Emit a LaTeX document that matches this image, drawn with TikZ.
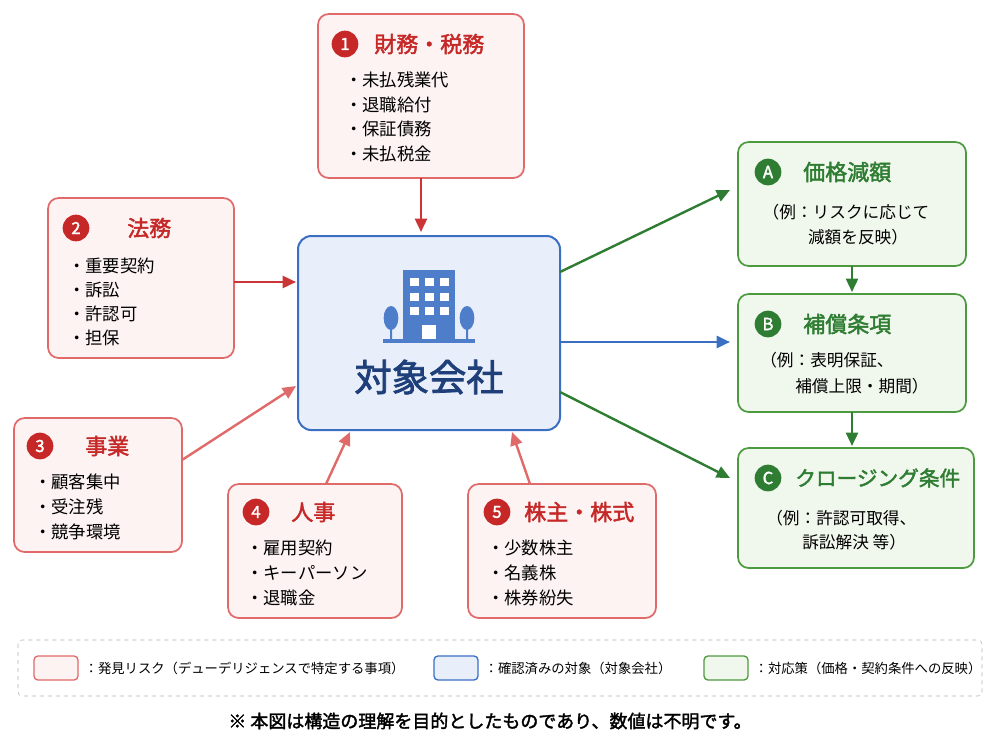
\documentclass[tikz,border=0pt]{standalone}
\usepackage{fontspec}
\setmainfont{Noto Sans CJK JP}
\newfontfamily\jpb{Noto Sans CJK JP}[FakeBold=2]
\usetikzlibrary{arrows.meta}
\definecolor{rb}{HTML}{E06A6A}\definecolor{rf}{HTML}{FDF3F3}\definecolor{rt}{HTML}{C62828}
\definecolor{bb}{HTML}{3A6FC4}\definecolor{bf}{HTML}{E9EFFA}\definecolor{bt}{HTML}{1F3F7A}
\definecolor{gb}{HTML}{4E9A40}\definecolor{gf}{HTML}{F0F7EC}\definecolor{gt}{HTML}{2E7D32}
\begin{document}
\begin{tikzpicture}[x=0.75pt,y=-0.75pt,
 rbox/.style={draw=rb,fill=rf,line width=1.3pt,rounded corners=8pt},
 gbox/.style={draw=gb,fill=gf,line width=1.3pt,rounded corners=8pt},
 rnum/.style={circle,fill=rt,text=white,inner sep=0pt,minimum size=20pt,font=\jpb\fontsize{12.5}{12}\selectfont},
 gnum/.style={circle,fill=gt,text=white,inner sep=0pt,minimum size=20pt,font=\jpb\fontsize{12.5}{12}\selectfont},
 rtitle/.style={anchor=west,text=rt,font=\jpb\fontsize{16.5}{16}\selectfont,inner sep=0pt},
 gtitle/.style={anchor=west,text=gt,font=\jpb\fontsize{16.5}{16}\selectfont,inner sep=0pt},
 item/.style={anchor=west,font=\fontsize{13}{14}\selectfont,inner sep=0pt},
 gtxt/.style={font=\fontsize{12.5}{18}\selectfont,inner sep=0pt},
 rar/.style={-{Triangle[length=10pt,width=9pt]},draw=rt!80!rb,line width=1.8pt},
 gar/.style={-{Triangle[length=10pt,width=9pt]},draw=gt,line width=1.8pt},
 bar/.style={-{Triangle[length=10pt,width=9pt]},draw=bb,line width=2pt}]
\useasboundingbox (0,0) rectangle (1000,750);
% boxes
\draw[rbox] (318,14) rectangle (524,178); \coordinate (b1) at (421,178);
\node[rnum] at (345,44) {1}; \node[rtitle] at (374,44) {財務・税務};
\foreach \t [count=\i] in {未払残業代,退職給付,保証債務,未払税金}
  \node[item] at (345,80+24.5*\i-24.5) {・\t};
\draw[rbox] (48,198) rectangle (234,358); \coordinate (b2) at (234,282);
\node[rnum] at (76,228) {2}; \node[rtitle] at (127,228) {法務};
\foreach \t [count=\i] in {重要契約,訴訟,許認可,担保}
  \node[item] at (68,266+24*\i-24) {・\t};
\draw[rbox] (14,418) rectangle (182,552); \coordinate (b3) at (182,460);
\node[rnum] at (40,446) {3}; \node[rtitle] at (85,446) {事業};
\foreach \t [count=\i] in {顧客集中,受注残,競争環境}
  \node[item] at (34,482+25*\i-25) {・\t};
\draw[rbox] (228,484) rectangle (402,618); \coordinate (b4) at (326,484);
\node[rnum] at (256,512) {4}; \node[rtitle] at (291,512) {人事};
\foreach \t [count=\i] in {雇用契約,キーパーソン,退職金}
  \node[item] at (246,548+25*\i-25) {・\t};
\draw[rbox] (468,484) rectangle (656,618); \coordinate (b5) at (530,484);
\node[rnum] at (497,512) {5}; \node[rtitle] at (524,512) {株主・株式};
\foreach \t [count=\i] in {少数株主,名義株,株券紛失}
  \node[item] at (487,548+25*\i-25) {・\t};
% center
\draw[draw=bb,fill=bf,line width=1.5pt,rounded corners=10pt] (298,236) rectangle (560,430);
\fill[bb!90] (403,270) rectangle (455,340);
\foreach \r in {0,1,2} \foreach \cc in {0,1,2}
  \fill[white] (410+15*\cc,278+14.5*\r) rectangle (419+15*\cc,286+14.5*\r);
\fill[white] (422,325) rectangle (436,340);
\fill[bb!90] (383,339) rectangle (475,343);
\fill[bb!90] (390,339) rectangle (392,324) (466,339) rectangle (468,324);
\fill[bb!90] (391,318) ellipse (5.5pt and 9pt) (467,318) ellipse (5.5pt and 9pt);
\node[text=bt,font=\jpb\fontsize{28}{28}\selectfont] (c) at (429,377) {対象会社};
% green
\draw[gbox] (738,142) rectangle (966,266);
\node[gnum] at (768,172) {A}; \node[gtitle] at (803,172) {価格減額};
\node[gtxt] at (846,212) {（例：リスクに応じて};
\node[gtxt] at (858,237) {減額を反映）};
\draw[gbox] (738,294) rectangle (966,412);
\node[gnum] at (768,324) {B}; \node[gtitle] at (803,324) {補償条項};
\node[gtxt,anchor=west] at (760,360) {（例：表明保証、};
\node[gtxt,anchor=west] at (795,386) {補償上限・期間）};
\draw[gbox] (738,448) rectangle (974,568);
\node[gnum] at (768,478) {C}; \node[gtitle,font=\jpb\fontsize{15.5}{16}\selectfont] at (795,478) {クロージング条件};
\node[gtxt,anchor=west] at (766,518) {（例：許認可取得、};
\node[gtxt,anchor=west] at (802,542) {訴訟解決 等）};
% arrows
\draw[rar] (b1) -- (421,232);
\draw[rar] (b2) -- (296,282);
\draw[rar,draw=rb] (b3) -- (296,386);
\draw[rar,draw=rb] (b4) -- (350,432);
\draw[rar,draw=rb] (b5) -- (512,432);
\draw[gar] (560,272) -- (730,190);
\draw[bar] (560,342) -- (730,342);
\draw[gar] (560,392) -- (730,478);
\draw[gar] (852,266) -- (852,292);
\draw[gar] (852,412) -- (852,446);
% legend
\draw[gray!60,dashed,rounded corners=3pt] (18,640) rectangle (982,696);
\draw[rb,fill=rf,line width=1pt,rounded corners=3pt] (34,656) rectangle (78,680);
\node[anchor=west,font=\fontsize{10}{10}\selectfont] at (80,668) {：発見リスク（デューデリジェンスで特定する事項）};
\draw[bb,fill=bf,line width=1pt,rounded corners=3pt] (434,656) rectangle (478,680);
\node[anchor=west,font=\fontsize{10}{10}\selectfont] at (480,668) {：確認済みの対象（対象会社）};
\draw[gb,fill=gf,line width=1pt,rounded corners=3pt] (704,656) rectangle (748,680);
\node[anchor=west,font=\fontsize{10}{10}\selectfont] at (750,668) {：対応策（価格・契約条件への反映）};
\node[font=\jpb\fontsize{13.5}{14}\selectfont] at (490,721) {※ 本図は構造の理解を目的としたものであり、数値は不明です。};
\end{tikzpicture}
\end{document}
